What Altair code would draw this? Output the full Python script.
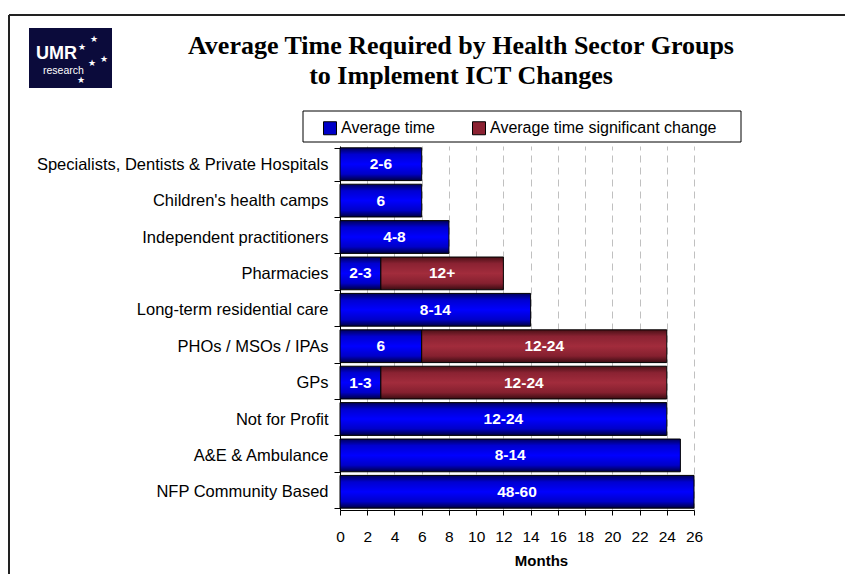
import altair as alt
import pandas as pd

categories = [
    "Specialists, Dentists & Private Hospitals",
    "Children's health camps",
    "Independent practitioners",
    "Pharmacies",
    "Long-term residential care",
    "PHOs / MSOs / IPAs",
    "GPs",
    "Not for Profit",
    "A&E & Ambulance",
    "NFP Community Based",
]
avg_time = [6, 6, 8, 3, 14, 6, 3, 24, 25, 26]
avg_label = ["2-6", "6", "4-8", "2-3", "8-14", "6", "1-3", "12-24", "8-14", "48-60"]
sig_time = [0, 0, 0, 9, 0, 18, 21, 0, 0, 0]
sig_label = ["", "", "", "12+", "", "12-24", "12-24", "", "", ""]
series = ["Average time", "Average time significant change"]
series_colors = ["#0000c8", "#8b2232"]
x_ticks = list(range(0, 27, 2))
title_lines = ["Average Time Required by Health Sector Groups", "to Implement ICT Changes"]

rows = []
for c, a, al, s, sl in zip(categories, avg_time, avg_label, sig_time, sig_label):
    rows.append({"category": c, "series": series[0], "start": 0, "end": a, "label": al})
    if s > 0:
        rows.append({"category": c, "series": series[1], "start": a, "end": a + s, "label": sl})
df = pd.DataFrame(rows)
df["mid"] = (df["start"] + df["end"]) / 2

SANS = "Liberation Sans"
one = pd.DataFrame({"k": [0]})

y_enc = alt.Y(
    "category:N",
    sort=categories,
    scale=alt.Scale(paddingInner=0.1, paddingOuter=0.05),
    axis=alt.Axis(
        title=None, labelFont=SANS, labelFontSize=16.5, labelColor="black",
        domainColor="black", tickColor="black", tickSize=6, labelPadding=6,
        tickBand="extent", grid=False, labelLimit=400,
    ),
)
x_axis = alt.Axis(
    title="Months", values=x_ticks, grid=True, gridDash=[7, 5], gridColor="#c0c0c0",
    tickSize=5, tickColor="black", domainColor="black", labelFont=SANS,
    labelFontSize=15.5, labelColor="black", labelPadding=14, labelFlush=False,
    labelOverlap=False, titleFont=SANS,
    titleFontSize=15, titleFontWeight="bold", titleColor="black",
    titleX=201, titleY=55, titleBaseline="alphabetic",
)
x_scale = alt.Scale(domain=[0, 26], nice=False)

blue_grad = alt.LinearGradient(
    gradient="linear", x1=0, x2=0, y1=0, y2=1,
    stops=[
        alt.GradientStop(offset=0, color="#00005a"),
        alt.GradientStop(offset=0.2, color="#0000d0"),
        alt.GradientStop(offset=0.5, color="#0000ff"),
        alt.GradientStop(offset=0.8, color="#0000c8"),
        alt.GradientStop(offset=1, color="#000040"),
    ],
)
red_grad = alt.LinearGradient(
    gradient="linear", x1=0, x2=0, y1=0, y2=1,
    stops=[
        alt.GradientStop(offset=0, color="#4a1016"),
        alt.GradientStop(offset=0.2, color="#8a2232"),
        alt.GradientStop(offset=0.5, color="#a22c3c"),
        alt.GradientStop(offset=0.8, color="#85202f"),
        alt.GradientStop(offset=1, color="#3a0c12"),
    ],
)

bars_avg = alt.Chart(df).transform_filter(alt.datum.series == series[0]).mark_bar(
    fill=blue_grad, stroke="black", strokeWidth=1
).encode(
    y=y_enc,
    x=alt.X("start:Q", scale=x_scale, axis=x_axis),
    x2="end:Q",
)
bars_sig = alt.Chart(df).transform_filter(alt.datum.series == series[1]).mark_bar(
    fill=red_grad, stroke="black", strokeWidth=1
).encode(
    y=y_enc,
    x=alt.X("start:Q", scale=x_scale, axis=x_axis),
    x2="end:Q",
)
labels = alt.Chart(df).mark_text(
    color="white", font=SANS, fontSize=15.5, fontWeight="bold", baseline="middle"
).encode(
    y=y_enc,
    x=alt.X("mid:Q", scale=x_scale, axis=x_axis),
    text="label:N",
)

legend_box = alt.Chart(one).mark_rect(fill="white", stroke="black", strokeWidth=1).encode(
    x=alt.value(-37), x2=alt.value(401), y=alt.value(-35), y2=alt.value(-4)
)
legend_layer = alt.Chart(df).mark_point(shape="square", filled=True, opacity=0).encode(
    y=y_enc,
    x=alt.X("start:Q", scale=x_scale, axis=x_axis),
    color=alt.Color(
        "series:N",
        scale=alt.Scale(domain=series, range=series_colors),
        legend=alt.Legend(
            title=None, orient="none", legendX=-18, legendY=-26, direction="horizontal",
            symbolType="square", symbolSize=169, symbolStrokeColor="black",
            symbolStrokeWidth=1, symbolOpacity=1, labelFont=SANS, labelFontSize=16,
            labelColor="black", labelOffset=3, labelLimit=400, columnPadding=35,
            padding=0,
        ),
    ),
)

title1 = alt.Chart(one).mark_text(
    text=title_lines[0], font="Liberation Serif", fontSize=26, fontWeight="bold",
    align="center", baseline="alphabetic", color="black",
).encode(x=alt.value(121), y=alt.value(-92))
title2 = alt.Chart(one).mark_text(
    text=title_lines[1], font="Liberation Serif", fontSize=26, fontWeight="bold",
    align="center", baseline="alphabetic", color="black",
).encode(x=alt.value(121), y=alt.value(-62))

frame_top = alt.Chart(one).mark_rule(color="#222222", strokeWidth=2).encode(
    x=alt.value(-331), x2=alt.value(505), y=alt.value(-131)
)
frame_left = alt.Chart(one).mark_rule(color="#222222", strokeWidth=2).encode(
    x=alt.value(-331), y=alt.value(-131), y2=alt.value(430)
)

logo_bg = alt.Chart(one).mark_rect(fill="#0b0b3b").encode(
    x=alt.value(-311), x2=alt.value(-228), y=alt.value(-118), y2=alt.value(-58)
)
logo_umr = alt.Chart(one).mark_text(
    text="UMR", font=SANS, fontSize=18, fontWeight="bold", color="white",
    align="left", baseline="alphabetic",
).encode(x=alt.value(-304), y=alt.value(-87))
logo_research = alt.Chart(one).mark_text(
    text="research", font=SANS, fontSize=10.5, color="white", align="left",
    baseline="alphabetic",
).encode(x=alt.value(-297), y=alt.value(-72))
star_layers = []
for sx, sy in [(-246, -107), (-258, -99), (-236, -87), (-248, -83), (-259, -66)]:
    star_layers.append(
        alt.Chart(one).mark_text(
            text="★", font="DejaVu Sans", fontSize=9, color="white",
            align="center", baseline="middle",
        ).encode(x=alt.value(sx), y=alt.value(sy))
    )

chart = alt.layer(
    frame_top, frame_left, logo_bg, logo_umr, logo_research, *star_layers,
    title1, title2, legend_box,
    bars_avg, bars_sig, labels, legend_layer,
).properties(
    width=354,
    height=364,
    autosize=alt.AutoSizeParams(type="none"),
    padding={"left": 332, "top": 138, "right": 151, "bottom": 64},
).configure_view(stroke=None)

chart.save("out.html", embed_options={"renderer": "svg", "actions": False})
